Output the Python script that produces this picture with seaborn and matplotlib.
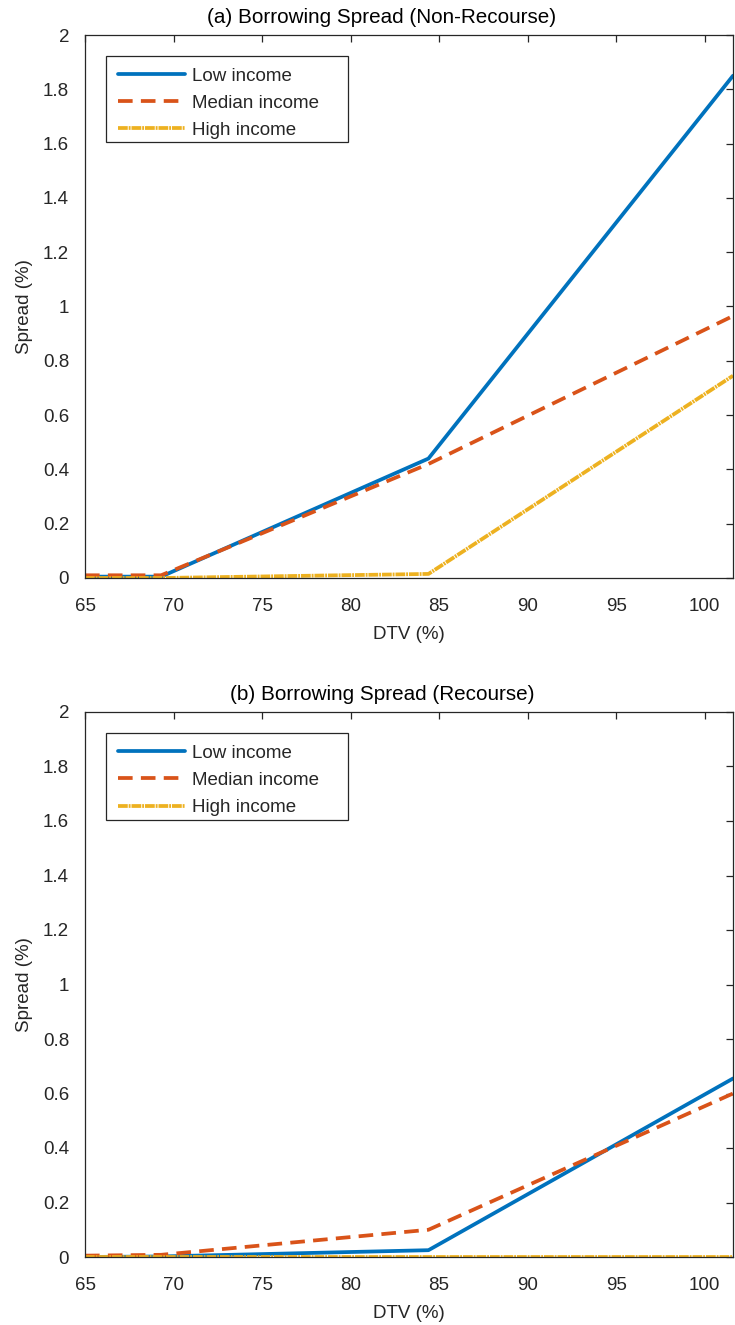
import numpy as np
import pandas as pd
import matplotlib
matplotlib.use("Agg")
import matplotlib.pyplot as plt
import seaborn as sns
from matplotlib.patches import Rectangle
from matplotlib.ticker import FixedLocator, FixedFormatter

# Debt-to-value grid (%) at which spreads are reported
dtv = [65.0, 69.3, 84.4, 101.6]

# (a) Non-recourse spreads (%)
low_nonrec = [0.005, 0.005, 0.44, 1.85]
med_nonrec = [0.010, 0.010, 0.42, 0.965]
high_nonrec = [0.000, 0.000, 0.015, 0.745]

# (b) Recourse spreads (%)
low_rec = [0.000, 0.002, 0.025, 0.655]
med_rec = [0.005, 0.008, 0.100, 0.600]
high_rec = [0.000, 0.000, 0.000, 0.000]

groups = ["Low income", "Median income", "High income"]
titles = ["(a) Borrowing Spread (Non-Recourse)", "(b) Borrowing Spread (Recourse)"]
xticks = [65, 70, 75, 80, 85, 90, 95, 100]
yticks = [0, 0.2, 0.4, 0.6, 0.8, 1.0, 1.2, 1.4, 1.6, 1.8, 2.0]
ytick_labels = ["0", "0.2", "0.4", "0.6", "0.8", "1", "1.2", "1.4", "1.6", "1.8", "2"]

sns.set_theme(style="white")
plt.rcParams["font.family"] = ["Liberation Sans", "DejaVu Sans"]
plt.rcParams["axes.edgecolor"] = "#262626"
plt.rcParams["axes.linewidth"] = 0.9

colors = ["#0072BD", "#D95319", "#EDB120"]
styles = ["-", (0, (3.9, 2.2)), (0, (2.6, 0.25, 0.5, 0.25))]

panels = [
    [low_nonrec, med_nonrec, high_nonrec],
    [low_rec, med_rec, high_rec],
]

fig = plt.figure(figsize=(7.35, 13.25), dpi=100)
ax_rects = [
    [85 / 735, 1 - 578 / 1325, (733 - 85) / 735, (578 - 35) / 1325],
    [85 / 735, 1 - 1257 / 1325, (733 - 85) / 735, (1257 - 712) / 1325],
]

fs = 13.5
for rect, series, title in zip(ax_rects, panels, titles):
    ax = fig.add_axes(rect)
    df = pd.DataFrame({
        "DTV": np.tile(dtv, 3),
        "Spread": np.concatenate(series),
        "Group": np.repeat(groups, len(dtv)),
    })
    for g, c, ls in zip(groups, colors, styles):
        sub = df[df["Group"] == g]
        sns.lineplot(data=sub, x="DTV", y="Spread", ax=ax, color=c,
                     linewidth=2.7, estimator=None, sort=False, label=g)
        ax.lines[-1].set_linestyle(ls)
        ax.lines[-1].set_dash_capstyle("butt")
    ax.set_xlim(65, 101.6)
    ax.set_ylim(0, 2)
    ax.xaxis.set_major_locator(FixedLocator(xticks))
    ax.yaxis.set_major_locator(FixedLocator(yticks))
    ax.yaxis.set_major_formatter(FixedFormatter(ytick_labels))
    ax.tick_params(direction="in", length=5, width=0.9, color="#262626",
                   top=True, right=True, labelsize=fs, labelcolor="#262626")
    ax.tick_params(axis="x", pad=14.5)
    ax.tick_params(axis="y", pad=11.5)
    for s in ax.spines.values():
        s.set_visible(True)
        s.set_color("#262626")
    ax.set_xlabel("DTV (%)", fontsize=fs, color="#262626", labelpad=8)
    ax.set_ylabel("Spread (%)", fontsize=fs, color="#262626", labelpad=7)
    ax.set_title(title, fontsize=fs * 1.1, color="black", x=0.458, pad=8.5)

    # legend entries without frame; the box is drawn as its own rectangle
    handles = ax.lines[:3]
    ax.legend(handles, groups, loc="upper left",
              bbox_to_anchor=(0.0509, 0.9403), fontsize=fs,
              frameon=False, handlelength=3.6, handletextpad=0.37,
              labelspacing=0.54, borderpad=0, borderaxespad=0)
    ax.add_patch(Rectangle((0.0324, 0.8024), 0.3735, 0.159,
                           transform=ax.transAxes, fill=False,
                           edgecolor="#262626", linewidth=0.9, zorder=5))

fig.savefig("out.png", dpi=100)
